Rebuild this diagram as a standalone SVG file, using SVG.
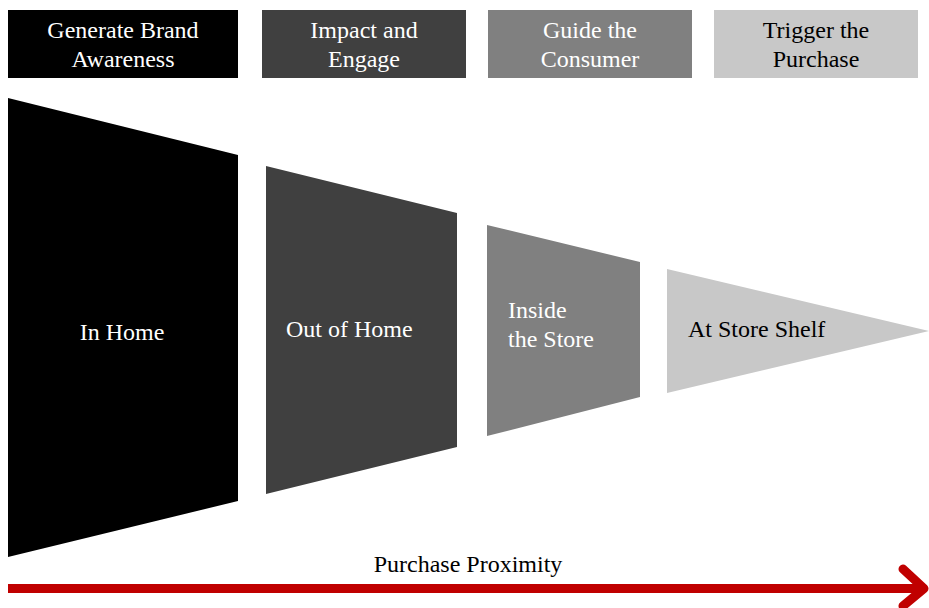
<svg xmlns="http://www.w3.org/2000/svg" width="929" height="608" viewBox="0 0 929 608">
  <style>
    text { font-family: "Times New Roman", "Liberation Serif", serif; font-size: 24px; }
    .w { fill: #ffffff; }
    .k { fill: #000000; }
    .c { text-anchor: middle; }
  </style>
  <rect width="929" height="608" fill="#ffffff"/>

  <!-- stage headers -->
  <g id="header-awareness">
    <rect x="8" y="10" width="230" height="68" fill="#000000"/>
    <text class="w c" x="123" y="38">Generate Brand</text>
    <text class="w c" x="123" y="67">Awareness</text>
  </g>
  <g id="header-engage">
    <rect x="262" y="10" width="204" height="68" fill="#404040"/>
    <text class="w c" x="364" y="38">Impact and</text>
    <text class="w c" x="364" y="67">Engage</text>
  </g>
  <g id="header-guide">
    <rect x="488" y="10" width="204" height="68" fill="#808080"/>
    <text class="w c" x="590" y="38">Guide the</text>
    <text class="w c" x="590" y="67">Consumer</text>
  </g>
  <g id="header-trigger">
    <rect x="714" y="10" width="204" height="68" fill="#c8c8c8"/>
    <text class="k c" x="816" y="38">Trigger the</text>
    <text class="k c" x="816" y="67">Purchase</text>
  </g>

  <!-- funnel segments -->
  <g id="in-home">
    <polygon points="8,98 238,155 238,501 8,557" fill="#000000"/>
    <text class="w c" x="122" y="340">In Home</text>
  </g>
  <g id="out-of-home">
    <polygon points="266,166 457,213 457,447 266,494" fill="#404040"/>
    <text class="w" x="286" y="337">Out of Home</text>
  </g>
  <g id="inside-store">
    <polygon points="487,225 640,262 640,397 487,436" fill="#808080"/>
    <text class="w" x="508" y="318">Inside</text>
    <text class="w" x="508" y="347">the Store</text>
  </g>
  <g id="store-shelf">
    <polygon points="667,269 929,331 667,393" fill="#c8c8c8"/>
    <text class="k" x="688" y="337">At Store Shelf</text>
  </g>

  <!-- proximity axis -->
  <g id="connectors">
    <line x1="8" y1="588.5" x2="924" y2="588.5" stroke="#c00000" stroke-width="9"/>
    <polyline points="903,569 924,588.5 903,606" fill="none" stroke="#c00000" stroke-width="9" stroke-linecap="round" stroke-linejoin="round"/>
  </g>
  <text class="k c" x="468" y="572">Purchase Proximity</text>
</svg>
